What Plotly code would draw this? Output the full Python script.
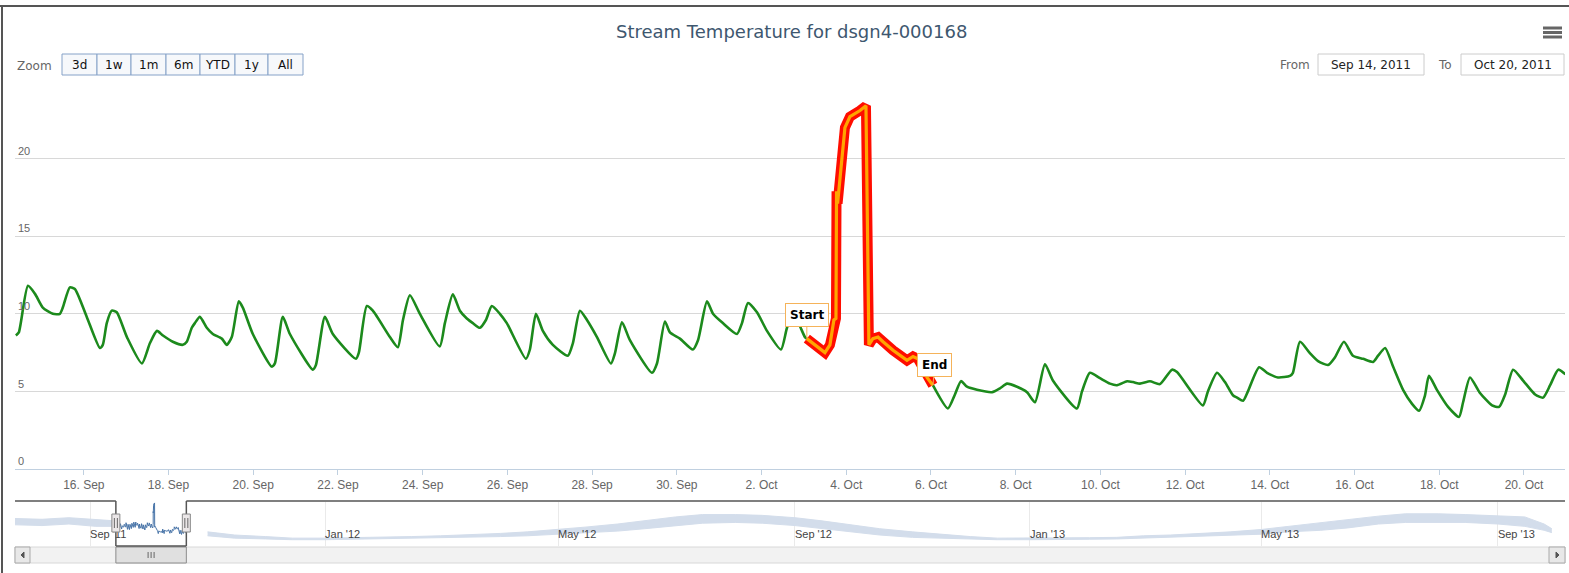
import plotly.graph_objects as go
import pandas as pd

# ---------------- data ----------------
title_text = "Stream Temperature for dsgn4-000168"

main_times = [
    "2011-09-14 09:30", "2011-09-14 11:10", "2011-09-14 16:20", "2011-09-14 20:15",
    "2011-09-15 00:45", "2011-09-15 06:25", "2011-09-15 10:25", "2011-09-15 12:05",
    "2011-09-15 16:05", "2011-09-15 18:55", "2011-09-16 01:40", "2011-09-16 09:05",
    "2011-09-16 10:45", "2011-09-16 13:00", "2011-09-16 15:50", "2011-09-16 18:40",
    "2011-09-17 00:25", "2011-09-17 08:55", "2011-09-17 13:25", "2011-09-17 17:25",
    "2011-09-17 20:50", "2011-09-18 02:25", "2011-09-18 08:05", "2011-09-18 10:20",
    "2011-09-18 13:10", "2011-09-18 14:55", "2011-09-18 17:45", "2011-09-18 21:40",
    "2011-09-19 01:05", "2011-09-19 06:10", "2011-09-19 09:00", "2011-09-19 11:50",
    "2011-09-19 15:50", "2011-09-19 18:05", "2011-09-19 23:45", "2011-09-20 10:30",
    "2011-09-20 12:15", "2011-09-20 16:45", "2011-09-20 20:45", "2011-09-21 09:45",
    "2011-09-21 11:30", "2011-09-21 16:35", "2011-09-21 21:05", "2011-09-22 10:10",
    "2011-09-22 11:50", "2011-09-22 16:20", "2011-09-22 19:45", "2011-09-23 05:25",
    "2011-09-23 09:55", "2011-09-23 12:50", "2011-09-23 16:45", "2011-09-23 22:25",
    "2011-09-24 09:40", "2011-09-24 12:35", "2011-09-24 17:05", "2011-09-24 21:05",
    "2011-09-25 01:00", "2011-09-25 04:25", "2011-09-25 08:25", "2011-09-25 11:50",
    "2011-09-25 15:10", "2011-09-25 19:45", "2011-09-25 23:40", "2011-09-26 10:30",
    "2011-09-26 12:45", "2011-09-26 16:10", "2011-09-26 20:05", "2011-09-27 01:45",
    "2011-09-27 10:15", "2011-09-27 13:05", "2011-09-27 17:05", "2011-09-27 21:05",
    "2011-09-28 02:45", "2011-09-28 10:40", "2011-09-28 12:55", "2011-09-28 16:55",
    "2011-09-28 21:25", "2011-09-29 09:55", "2011-09-29 12:45", "2011-09-29 17:15",
    "2011-09-29 20:05", "2011-09-30 01:45", "2011-09-30 09:05", "2011-09-30 12:00",
    "2011-09-30 17:05", "2011-09-30 20:30", "2011-10-01 02:05", "2011-10-01 10:05",
    "2011-10-01 12:55", "2011-10-01 16:20", "2011-10-01 21:25", "2011-10-02 03:05",
    "2011-10-02 11:00", "2011-10-02 14:25", "2011-10-02 17:50", "2011-10-02 21:45",
    "2011-10-03 00:35", "2011-10-03 01:40", "2011-10-03 05:05", "2011-10-03 11:55",
    "2011-10-03 14:45", "2011-10-03 17:00", "2011-10-03 18:10", "2011-10-03 18:30",
    "2011-10-03 19:05", "2011-10-03 23:15", "2011-10-04 02:05", "2011-10-04 07:50",
    "2011-10-04 11:10", "2011-10-04 12:50", "2011-10-04 15:05", "2011-10-04 18:00",
    "2011-10-04 20:50", "2011-10-05 02:30", "2011-10-05 10:25", "2011-10-05 13:50",
    "2011-10-05 16:35", "2011-10-05 21:45", "2011-10-06 01:05", "2011-10-06 09:35",
    "2011-10-06 13:35", "2011-10-06 17:00", "2011-10-06 20:25", "2011-10-07 02:05",
    "2011-10-07 10:35", "2011-10-07 15:05", "2011-10-07 19:05", "2011-10-08 00:45",
    "2011-10-08 06:25", "2011-10-08 10:55", "2011-10-08 16:35", "2011-10-08 21:05",
    "2011-10-09 10:40", "2011-10-09 13:35", "2011-10-09 18:05", "2011-10-09 23:45",
    "2011-10-10 05:25", "2011-10-10 09:25", "2011-10-10 15:05", "2011-10-10 18:30",
    "2011-10-10 22:25", "2011-10-11 04:05", "2011-10-11 09:45", "2011-10-11 16:35",
    "2011-10-11 19:25", "2011-10-12 10:05", "2011-10-12 12:55", "2011-10-12 18:05",
    "2011-10-12 22:35", "2011-10-13 03:05", "2011-10-13 05:25", "2011-10-13 08:50",
    "2011-10-13 11:35", "2011-10-13 17:55", "2011-10-13 22:25", "2011-10-14 04:35",
    "2011-10-14 11:25", "2011-10-14 13:05", "2011-10-14 17:05", "2011-10-14 22:50",
    "2011-10-15 03:20", "2011-10-15 09:00", "2011-10-15 12:55", "2011-10-15 18:00",
    "2011-10-15 23:05", "2011-10-16 04:50", "2011-10-16 10:30", "2011-10-16 13:20",
    "2011-10-16 17:20", "2011-10-16 21:50", "2011-10-17 03:30", "2011-10-17 08:35",
    "2011-10-17 12:35", "2011-10-17 15:50", "2011-10-17 18:10", "2011-10-17 22:40",
    "2011-10-18 05:00", "2011-10-18 11:10", "2011-10-18 13:30", "2011-10-18 17:25",
    "2011-10-18 23:05", "2011-10-19 05:55", "2011-10-19 09:55", "2011-10-19 13:20",
    "2011-10-19 17:50", "2011-10-19 23:30", "2011-10-20 06:20", "2011-10-20 10:50",
    "2011-10-20 14:50", "2011-10-20 19:25", "2011-10-20 23:30",
]
main_temps = [
    8.6, 8.8, 11.8, 11.3,
    10.4, 10.0, 10.0, 10.4,
    11.7, 11.6, 9.8, 7.8,
    8.0, 9.4, 10.2, 10.1,
    8.5, 6.8, 8.1, 8.9,
    8.6, 8.2, 8.0, 8.2,
    9.1, 9.4, 9.8, 9.1,
    8.7, 8.4, 8.0, 8.5,
    10.8, 10.4, 8.7, 6.6,
    6.8, 9.8, 8.7, 6.4,
    6.7, 9.8, 8.7, 7.1,
    7.5, 10.5, 10.2, 8.5,
    7.85, 9.6, 11.2, 10.0,
    7.9, 9.4, 11.25, 10.2,
    9.7, 9.4, 9.1, 9.6,
    10.5, 10.0, 9.4, 7.1,
    7.7, 10.0, 8.9, 8.0,
    7.3, 8.1, 10.2, 9.6,
    8.5, 6.8, 7.45, 9.45,
    8.3, 6.2, 6.8, 9.5,
    8.8, 8.4, 7.7, 8.3,
    10.8, 10.0, 9.4, 8.7,
    9.4, 10.7, 10.1, 8.9,
    7.7, 9.1, 10.0, 9.2,
    8.5, 8.4, 8.1, 7.5,
    8.0, 9.6, 9.7, 17.9,
    17.1, 22.0, 22.7, 23.1,
    23.4, 8.0, 8.4, 8.5,
    8.2, 7.65, 7.0, 7.25,
    7.1, 5.9, 5.4, 3.9,
    4.8, 5.66, 5.3, 5.1,
    4.95, 5.2, 5.5, 5.3,
    4.95, 4.3, 6.75, 5.7,
    3.9, 5.0, 6.2, 5.85,
    5.5, 5.4, 5.65, 5.6,
    5.5, 5.65, 5.47, 6.4,
    6.25, 4.1, 5.0, 6.2,
    5.6, 4.75, 4.6, 4.4,
    5.0, 6.56, 6.2, 5.9,
    6.0, 6.2, 8.2, 7.45,
    6.95, 6.7, 7.2, 8.2,
    7.3, 7.1, 6.9, 7.3,
    7.8, 6.6, 5.1, 4.2,
    3.75, 4.7, 6.0, 5.1,
    4.0, 3.35, 4.3, 5.9,
    4.9, 4.1, 4.0, 4.8,
    6.4, 5.7, 4.8, 4.6,
    5.4, 6.4, 6.1,
]

event_start = "2011-10-03 01:40"
event_end = "2011-10-06 01:05"
flag_labels = ["Start", "End"]

view_range = ["2011-09-14 09:00", "2011-10-20 23:15"]
y_ticks = [0, 5, 10, 15, 20, 25]
y_ticklabels = ["0", "5", "10", "15", "20", ""]

# navigator (full record, read as a low/high band)
nav_dates = [
    "2011-07-24", "2011-08-07", "2011-08-21", "2011-09-04", "2011-09-14",
    "2011-10-20", "2011-11-01", "2011-11-15", "2011-12-01", "2011-12-15",
    "2012-01-01", "2012-01-15", "2012-02-01", "2012-02-15", "2012-03-01",
    "2012-03-15", "2012-04-01", "2012-04-15", "2012-05-01", "2012-05-15",
    "2012-06-01", "2012-06-15", "2012-07-01", "2012-07-15", "2012-08-01",
    "2012-08-15", "2012-09-01", "2012-09-15", "2012-10-01", "2012-10-15",
    "2012-11-01", "2012-11-15", "2012-12-01", "2012-12-15", "2013-01-01",
    "2013-01-15", "2013-02-01", "2013-02-15", "2013-03-01", "2013-03-15",
    "2013-04-01", "2013-04-15", "2013-05-01", "2013-05-15", "2013-06-01",
    "2013-06-15", "2013-07-01", "2013-07-15", "2013-08-01", "2013-08-15",
    "2013-09-01", "2013-09-15", "2013-09-25", "2013-09-29",
]
nav_low = [
    9.5, 9.0, 10.0, 8.5, 8.5,
    4.5, 2.5, 1.0, 0.5, 0.0,
    0.0, 0.3, 0.5, 0.8, 1.0,
    1.5, 2.0, 2.5, 3.5, 4.0,
    5.5, 7.0, 9.0, 10.5, 11.0,
    10.5, 9.0, 7.0, 5.0, 3.0,
    1.5, 1.0, 0.5, 0.0, 0.0,
    0.0, 0.3, 0.5, 1.0, 1.5,
    2.0, 2.5, 3.5, 5.0, 6.0,
    7.5, 10.0, 11.0, 11.0, 11.0,
    10.0, 8.5, 6.0, 4.5,
]
nav_high = [
    13.5, 13.0, 14.0, 13.0, 12.0,
    6.5, 5.0, 3.0, 2.0, 1.0,
    1.0, 1.2, 1.5, 2.0, 2.5,
    3.0, 4.0, 5.0, 6.5, 8.0,
    10.0, 12.0, 14.5, 16.0, 16.0,
    15.5, 14.0, 12.0, 9.5, 7.0,
    5.0, 3.5, 2.0, 1.0, 1.0,
    1.0, 1.3, 1.5, 2.5, 3.0,
    4.0, 5.0, 6.5, 8.5, 10.5,
    12.5, 15.0, 16.5, 16.5, 16.0,
    15.0, 14.5, 10.0, 7.0,
]
nav_range = ["2011-07-24", "2013-10-05 20:00"]
nav_yrange = [-4, 24]

range_buttons = ["3d", "1w", "1m", "6m", "YTD", "1y", "All"]
from_label = "Sep 14, 2011"
to_label = "Oct 20, 2011"

# ---------------- layout helpers ----------------
W, H = 1569, 573
ML, MR, MT, MB = 15, 4, 81, 27
PW, PH = W - ML - MR, H - MT - MB


def px(x):
    return (x - ML) / PW


def py(y):
    return (H - MB - y) / PH


FONT = "DejaVu Sans, Verdana, sans-serif"
TICKFONT = "Liberation Sans, Arial, sans-serif"

df = pd.DataFrame({"t": pd.to_datetime(main_times), "v": main_temps})
t_start, t_end = pd.Timestamp(event_start), pd.Timestamp(event_end)
before = df[df.t <= t_start]
after = df[df.t >= t_end]
event = df[(df.t >= t_start) & (df.t <= t_end)]

nav = pd.DataFrame({"t": pd.to_datetime(nav_dates), "lo": nav_low, "hi": nav_high})
sel0, sel1 = pd.Timestamp(view_range[0]), pd.Timestamp(view_range[1])
nav_pre = nav[nav.t <= sel0]
nav_post = nav[nav.t >= sel1]

fig = go.Figure()

# navigator band
band_col = "#D3DDEB"
for part in (nav_pre, nav_post):
    fig.add_trace(go.Scatter(x=part.t, y=part.lo, xaxis="x2", yaxis="y2", mode="lines",
                             line=dict(color=band_col, width=1), hoverinfo="skip"))
    fig.add_trace(go.Scatter(x=part.t, y=part.hi, xaxis="x2", yaxis="y2", mode="lines",
                             line=dict(color=band_col, width=1), fill="tonexty",
                             fillcolor=band_col, hoverinfo="skip"))
# navigator selected series
fig.add_trace(go.Scatter(x=df.t, y=df.v, xaxis="x2", yaxis="y2", mode="lines",
                         line=dict(color="#4572A7", width=1), hoverinfo="skip"))

# main series
green = "#1C8A1C"
for part in (before, after):
    fig.add_trace(go.Scatter(x=part.t, y=part.v, mode="lines",
                             line=dict(color=green, width=2.6, shape="spline", smoothing=0.6),
                             hoverinfo="skip"))
fig.add_trace(go.Scatter(x=event.t, y=event.v, mode="lines",
                         line=dict(color="#FF0D00", width=10), hoverinfo="skip"))
fig.add_trace(go.Scatter(x=event.t, y=event.v, mode="lines",
                         line=dict(color="#FFA500", width=3.2), hoverinfo="skip"))

shapes = []
annotations = []

# outer frame (top & left edge visible)
shapes.append(dict(type="line", xref="paper", yref="paper", x0=px(0), x1=px(W + 5),
                   y0=py(6), y1=py(6), line=dict(color="#555555", width=2)))
shapes.append(dict(type="line", xref="paper", yref="paper", x0=px(2), x1=px(2),
                   y0=py(6), y1=py(H + 5), line=dict(color="#555555", width=2)))

# title
annotations.append(dict(xref="paper", yref="paper", x=px(791), y=py(31), text=title_text,
                        showarrow=False, xanchor="center", yanchor="middle",
                        font=dict(family=FONT, size=18, color="#3E576F")))

# hamburger
for yy in (28, 32.5, 37):
    shapes.append(dict(type="line", xref="paper", yref="paper", x0=px(1543), x1=px(1562),
                       y0=py(yy), y1=py(yy), line=dict(color="#666666", width=3)))

# range selector
annotations.append(dict(xref="paper", yref="paper", x=px(15), y=py(66), text="Zoom",
                        showarrow=False, xanchor="left", yanchor="middle",
                        font=dict(family=FONT, size=12, color="#666666")))
bx = [62, 97, 131, 166, 200, 235, 268, 303]
for i, lab in enumerate(range_buttons):
    shapes.append(dict(type="rect", xref="paper", yref="paper", x0=px(bx[i]), x1=px(bx[i + 1]),
                       y0=py(75), y1=py(54), fillcolor="#F6F8FB",
                       line=dict(color="#86A2C8", width=1)))
    annotations.append(dict(xref="paper", yref="paper", x=px((bx[i] + bx[i + 1]) / 2), y=py(65),
                            text=lab, showarrow=False, xanchor="center", yanchor="middle",
                            font=dict(family=FONT, size=12, color="#111111")))

# from / to inputs
annotations.append(dict(xref="paper", yref="paper", x=px(1312), y=py(65), text="From",
                        showarrow=False, xanchor="right", yanchor="middle",
                        font=dict(family=FONT, size=12, color="#666666")))
annotations.append(dict(xref="paper", yref="paper", x=px(1454), y=py(65), text="To",
                        showarrow=False, xanchor="right", yanchor="middle",
                        font=dict(family=FONT, size=12, color="#666666")))
for (x0, x1, lab) in ((1318, 1424, from_label), (1461, 1564, to_label)):
    shapes.append(dict(type="rect", xref="paper", yref="paper", x0=px(x0), x1=px(x1),
                       y0=py(75), y1=py(54), fillcolor="white",
                       line=dict(color="#CCCCCC", width=1)))
    annotations.append(dict(xref="paper", yref="paper", x=px((x0 + x1) / 2), y=py(65), text=lab,
                            showarrow=False, xanchor="center", yanchor="middle",
                            font=dict(family=FONT, size=12, color="#222222")))

# flags
flag_col = "#F5B35A"
start_v = float(df.loc[df.t == t_start, "v"].iloc[0])
end_v = float(df.loc[df.t == t_end, "v"].iloc[0])
annotations.append(dict(x=event_start, y=start_v, xref="x", yref="y", text="<b>%s</b>" % flag_labels[0],
                        showarrow=True, arrowhead=0, arrowwidth=1, arrowcolor=flag_col,
                        ax=0, ay=-24, bgcolor="white", bordercolor=flag_col, borderwidth=1,
                        borderpad=4, font=dict(family=FONT, size=12, color="#000000")))
annotations.append(dict(x=event_end, y=end_v, xref="x", yref="y", text="<b>%s</b>" % flag_labels[1],
                        showarrow=True, arrowhead=0, arrowwidth=1, arrowcolor=flag_col,
                        ax=2, ay=-20, bgcolor="white", bordercolor=flag_col, borderwidth=1,
                        borderpad=4, font=dict(family=FONT, size=12, color="#000000")))

# scrollbar
sb_top, sb_bot = 547, 563
shapes.append(dict(type="rect", xref="paper", yref="paper", x0=px(15), x1=px(1565),
                   y0=py(sb_bot), y1=py(sb_top), fillcolor="#F2F2F2",
                   line=dict(color="#D8D8D8", width=1)))
for (x0, x1) in ((15, 30), (1549, 1565)):
    shapes.append(dict(type="rect", xref="paper", yref="paper", x0=px(x0), x1=px(x1),
                       y0=py(sb_bot), y1=py(sb_top), fillcolor="#E8E8E8",
                       line=dict(color="#AAAAAA", width=1)))
shapes.append(dict(type="path", xref="paper", yref="paper",
                   path="M %f %f L %f %f L %f %f Z" % (px(24), py(552), px(24), py(558), px(21), py(555)),
                   fillcolor="#555555", line=dict(color="#555555", width=1)))
shapes.append(dict(type="path", xref="paper", yref="paper",
                   path="M %f %f L %f %f L %f %f Z" % (px(1556), py(552), px(1556), py(558), px(1559), py(555)),
                   fillcolor="#555555", line=dict(color="#555555", width=1)))
shapes.append(dict(type="rect", xref="x2", yref="paper", x0=sel0, x1=sel1,
                   y0=py(sb_bot), y1=py(sb_top), fillcolor="#E0E0E0",
                   line=dict(color="#8C8C8C", width=1)))
sel_mid = sel0 + (sel1 - sel0) / 2
for dx in (-3, 0, 3):
    shapes.append(dict(type="line", xref="x2", yref="paper", xsizemode="pixel", xanchor=sel_mid,
                       x0=dx, x1=dx, y0=py(552), y1=py(558), line=dict(color="#666666", width=1)))

# navigator outline
out_col = "#555555"
nav_top, nav_bot = 501, 546
shapes.append(dict(type="line", xref="x2", yref="paper", x0=nav_range[0], x1=sel0,
                   y0=py(nav_top), y1=py(nav_top), line=dict(color=out_col, width=1.5)))
shapes.append(dict(type="line", xref="x2", yref="paper", x0=sel1, x1=nav_range[1],
                   y0=py(nav_top), y1=py(nav_top), line=dict(color=out_col, width=1.5)))
for s in (sel0, sel1):
    shapes.append(dict(type="line", xref="x2", yref="paper", x0=s, x1=s,
                       y0=py(nav_top), y1=py(nav_bot), line=dict(color=out_col, width=1.5)))
shapes.append(dict(type="line", xref="x2", yref="paper", x0=sel0, x1=sel1,
                   y0=py(nav_bot), y1=py(nav_bot), line=dict(color=out_col, width=1.5)))
# handles
for s in (sel0, sel1):
    shapes.append(dict(type="rect", xref="x2", yref="paper", xsizemode="pixel", xanchor=s,
                       x0=-4, x1=4, y0=py(532), y1=py(514), fillcolor="#EBE7E8",
                       line=dict(color="#888888", width=1)))
    for dx in (-1.5, 1.5):
        shapes.append(dict(type="line", xref="x2", yref="paper", xsizemode="pixel", xanchor=s,
                           x0=dx, x1=dx, y0=py(528), y1=py(518),
                           line=dict(color="#666666", width=1)))

fig.update_layout(
    width=W, height=H,
    margin=dict(l=ML, r=MR, t=MT, b=MB),
    paper_bgcolor="white", plot_bgcolor="white",
    showlegend=False, hovermode=False,
    xaxis=dict(domain=[0, 1], anchor="y", type="date", range=view_range,
               tick0="2011-09-16", dtick=2 * 86400000, tickformat="%-d. %b",
               ticks="outside", ticklen=5, tickcolor="#C0D0E0",
               showline=True, linecolor="#C0D0E0", linewidth=1, showgrid=False,
               zeroline=False, tickfont=dict(family=TICKFONT, size=12, color="#666666")),
    yaxis=dict(domain=[py(469), 1], anchor="x", range=[0, 25], tickvals=y_ticks,
               ticktext=y_ticklabels, ticklabelposition="inside top", showgrid=True,
               gridcolor="#D8D8D8", gridwidth=1, zeroline=False, showline=False, ticks="",
               tickfont=dict(family=TICKFONT, size=11, color="#666666")),
    xaxis2=dict(domain=[0, 1], anchor="y2", type="date", range=nav_range,
                tick0="2011-09-01", dtick="M4", tickformat="%b '%y",
                ticklabelposition="inside right", ticks="", showgrid=True,
                gridcolor="#EAEAEA", showline=False, zeroline=False,
                tickfont=dict(family=TICKFONT, size=11, color="#444444")),
    yaxis2=dict(domain=[0, py(502)], anchor="x2", range=nav_yrange, showgrid=False,
                showticklabels=False, zeroline=False, showline=False, ticks=""),
    shapes=shapes,
    annotations=annotations,
)

fig.write_html("out.html", config={"displayModeBar": False},
               post_script="document.body.style.margin='0px';document.body.style.overflow='hidden';")
